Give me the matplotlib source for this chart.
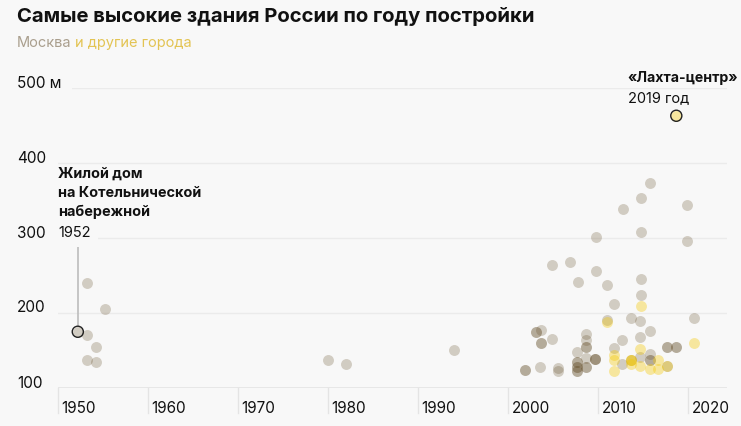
import matplotlib
matplotlib.use("Agg")
import matplotlib.pyplot as plt
from matplotlib.transforms import blended_transform_factory

plt.rcParams["font.family"] = ["Inter", "DejaVu Sans"]

# Moscow towers: year of completion and height, m (repeats = towers on the same spot)
moscow_years = [
    1953.2, 1955.2, 1952.2, 1953.2, 1954.2, 1953.2, 1954.2,
    1980.0, 1982.0, 1994.0,
    2003.7, 2003.1, 2003.1, 2003.7, 2003.7, 2004.9, 2001.9, 2001.9, 2003.6,
    2005.6, 2005.6, 2004.9, 2006.9, 2007.8, 2009.8, 2009.8,
    2008.7, 2008.7, 2008.7, 2008.7, 2008.7, 2008.7, 2008.7,
    2007.7, 2007.7, 2007.7, 2007.7, 2007.7, 2007.7, 2007.7,
    2009.7, 2009.7, 2009.7,
    2011.0, 2011.0, 2011.8, 2012.8, 2014.8, 2015.8, 2019.9, 2014.8, 2019.9,
    2014.8, 2014.8, 2013.7, 2014.7, 2020.7, 2015.8, 2012.7, 2014.7, 2011.8,
    2012.7, 2013.7, 2014.7, 2015.8, 2015.8, 2015.8,
    2017.7, 2017.7, 2018.7, 2018.7, 2017.7,
]
moscow_heights = [
    240, 205, 175, 171, 155, 138, 135,
    138, 132, 151,
    178, 175, 175, 160, 160, 166, 124, 124, 128,
    127, 123, 264, 268, 242, 302, 256,
    172, 164, 155, 155, 140, 128, 128,
    148, 135, 135, 128, 128, 123, 123,
    139, 139, 139,
    237, 191, 212, 339, 354, 374, 344, 308, 296,
    246, 224, 194, 190, 193, 176, 164, 168, 153,
    132, 137, 141, 145, 138, 138,
    155, 155, 155, 155, 130,
]

# other cities
other_years = [
    2018.7, 2014.8, 2011.0, 2014.7, 2011.8, 2011.8, 2011.8,
    2013.7, 2013.7, 2013.7, 2014.7, 2015.8, 2016.7, 2016.7, 2017.7, 2020.7,
]
other_heights = [
    463, 209, 188, 152, 144, 138, 123,
    137, 137, 132, 130, 126, 137, 126, 130, 160,
]

x_ticks = [1950, 1960, 1970, 1980, 1990, 2000, 2010, 2020]
y_ticks = [100, 200, 300, 400, 500]
y_tick_labels = ["100", "200", "300", "400", "500 м"]

BG = "#f8f8f8"
GRID = "#ebebeb"
MOSCOW = "#644e28"
OTHER = "#f5c800"
W, H = 741, 426

fig = plt.figure(figsize=(W / 100, H / 100), dpi=100)
fig.patch.set_facecolor(BG)

# axes box in pixels: x 58..727, y 88 (500 m) .. 388 (100 m)
ax = fig.add_axes([58 / W, 38 / H, 669 / W, 300 / H])
ax.set_facecolor(BG)
ax.set_xlim(1950, 1950 + 669 / 9)
ax.set_ylim(100, 500)
for s in ax.spines.values():
    s.set_visible(False)
ax.set_xticks([])
ax.set_yticks([])

for v in y_ticks[1:]:
    ax.axhline(v, color=GRID, lw=1, zorder=0)
ax.axhline(100, color="#e4e4e4", lw=1.2, zorder=0)

trans = blended_transform_factory(ax.transData, ax.transAxes)
for yr in x_ticks:
    ax.plot([yr, yr], [0, -25 / 300], transform=trans, color="#e4e4e4",
            lw=1, clip_on=False, zorder=0)
    ax.annotate(str(yr), xy=(yr, 0), xycoords=("data", "axes fraction"),
                xytext=(2.5, -14.5), textcoords="offset points",
                ha="left", va="center", fontsize=11, color="#111111")

for v, lbl in zip(y_ticks, y_tick_labels):
    ax.annotate(lbl, xy=(0, v), xycoords=("axes fraction", "data"),
                xytext=(-29.5, 3.6), textcoords="offset points",
                ha="left", va="center", fontsize=11, color="#111111",
                bbox=dict(boxstyle="square,pad=0.7", fc=BG, ec="none"),
                zorder=3)

# dots
ax.scatter(moscow_years, moscow_heights, s=62, color=MOSCOW, alpha=0.26,
           linewidths=0, zorder=2, clip_on=False)
ax.scatter(other_years, other_heights, s=62, color=OTHER, alpha=0.36,
           linewidths=0, zorder=2, clip_on=False)

# highlighted buildings
ax.scatter([moscow_years[2]], [moscow_heights[2]], s=64, facecolor="none",
           edgecolor="#222222", linewidths=1.0, zorder=4)
ax.scatter([other_years[0]], [other_heights[0]], s=64, facecolor="none",
           edgecolor="#222222", linewidths=1.0, zorder=4)

ax.plot([moscow_years[2], moscow_years[2]], [291, 183], color="#bdbdbd",
        lw=1.2, zorder=1)
ax.text(1950, 360, "Жилой дом\nна Котельнической\nнабережной",
        fontsize=10.4, fontweight="bold", ha="left", va="center",
        linespacing=1.45, color="#111111", zorder=3)
ax.text(1950, 306.7, "1952", fontsize=10.5, ha="left", va="center",
        color="#111111", zorder=3,
        bbox=dict(boxstyle="square,pad=0.5", fc=BG, ec="none"))

ax.text(2013.3, 513.3, "«Лахта-центр»", fontsize=10.2, fontweight="bold",
        ha="left", va="center", color="#111111", clip_on=False)
ax.text(2013.3, 486.7, "2019 год", fontsize=10.5, ha="left", va="center",
        color="#111111", clip_on=False)

# title and subtitle
fig.text(17 / W, 1 - 17 / H, "Самые высокие здания России по году постройки",
         fontsize=14.6, fontweight="bold", ha="left", va="center",
         color="#111111")
t1 = fig.text(17 / W, 1 - 43 / H, "Москва", fontsize=10.5, ha="left",
              va="center", color="#aa9f8e")
fig.canvas.draw()
bb = t1.get_window_extent()
fig.text(bb.x1 / W + 4 / W, 1 - 43 / H, "и другие города", fontsize=10.5,
         ha="left", va="center", color="#e3c453")

fig.savefig("out.png", dpi=100, facecolor=BG)
